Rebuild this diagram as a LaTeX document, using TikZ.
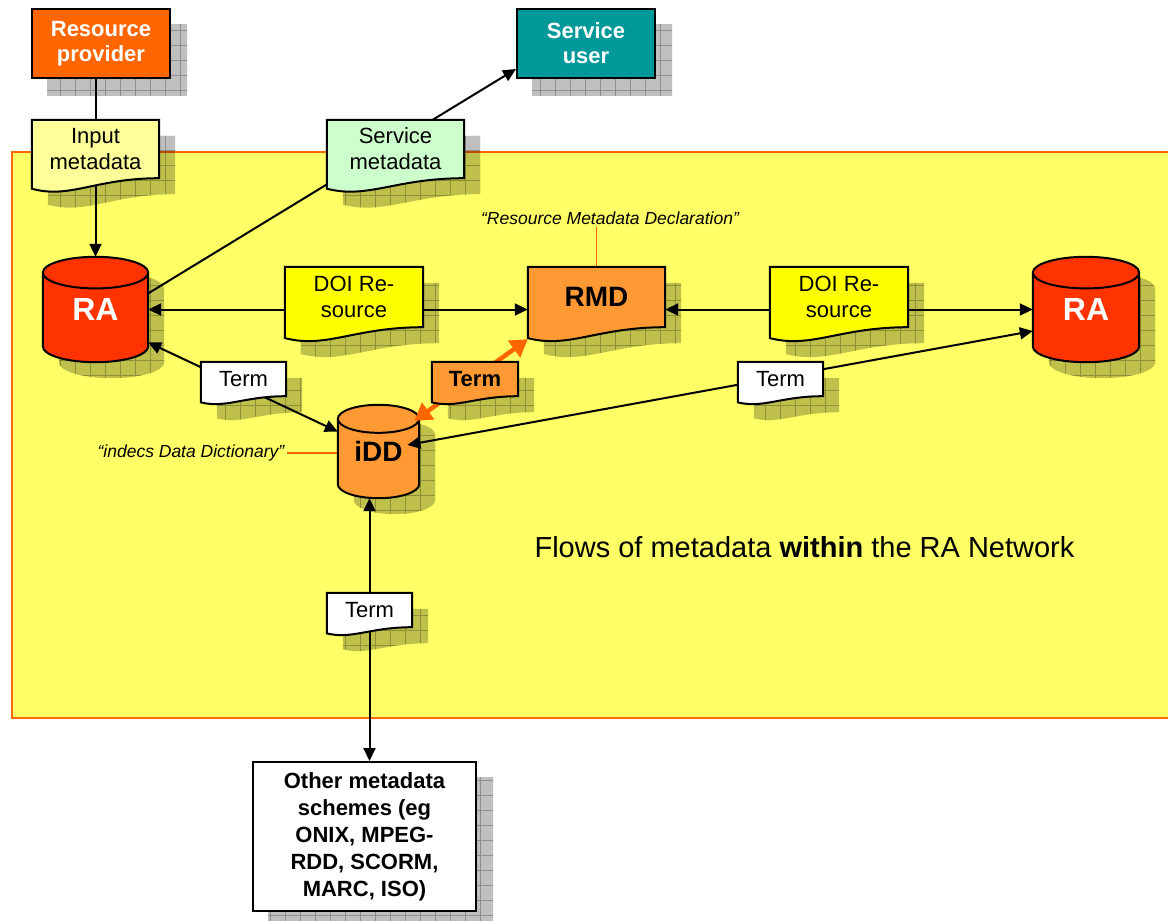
\documentclass[tikz,border=0pt]{standalone}
\usepackage{fontspec}
\setmainfont{Liberation Sans}
\usepackage{xcolor}
\usepackage{tikz}
\usetikzlibrary{calc,arrows.meta}
\definecolor{PanelYellow}{HTML}{FFFF66}
\definecolor{ProviderOrange}{HTML}{FF6600}
\definecolor{UserTeal}{HTML}{009999}
\definecolor{InputYellow}{HTML}{FFFF99}
\definecolor{ServiceGreen}{HTML}{CCFFCC}
\definecolor{RARed}{HTML}{FF3300}
\definecolor{DOIYellow}{HTML}{FFFF00}
\definecolor{DictOrange}{HTML}{FF9933}

\pgfdeclarelayer{panel}
\pgfdeclarelayer{edges}
\pgfdeclarelayer{shapes}
\pgfsetlayers{panel,edges,shapes,main}

% outlines of the drawn shapes (node, offset)
\newcommand{\boxpath}[2]{($(#1.south west)+(#2)$) rectangle ($(#1.north east)+(#2)$)}
\newcommand{\docpath}[2]{%
  let \p1=($(#1.south west)+(#2)$), \p2=($(#1.north east)+(#2)$),
      \n1={\x2-\x1}, \n2={0.18*(\y2-\y1)} in
  (\x1,\y2) -- (\x2,\y2) -- (\x2,\y1)
  .. controls +(-0.5*\n1,0) and +(0.3*\n1,-\n2) .. (\x1,\y1-\n2) -- cycle}
\newcommand{\cylpath}[2]{%
  let \p1=($(#1.south west)+(#2)$), \p2=($(#1.north east)+(#2)$),
      \n1={(\x2-\x1)/2}, \n2={0.15*(\y2-\y1)} in
  (\x1,\y2-\n2) -- (\x1,\y1+\n2)
  arc[start angle=180, end angle=360, x radius=\n1, y radius=\n2]
  -- (\x2,\y2-\n2)
  arc[start angle=0, end angle=180, x radius=\n1, y radius=\n2] -- cycle}
\newcommand{\cyltop}[1]{%
  let \p1=(#1.south west), \p2=(#1.north east),
      \n1={(\x2-\x1)/2}, \n2={0.15*(\y2-\y1)} in
  (\x1,\y2-\n2) arc[start angle=180, end angle=360, x radius=\n1, y radius=\n2]}

% gridded drop shadow
\newcommand{\dropgrid}[2]{%
  \begin{scope}
    \clip #1{#2}{16,-16};
    \fill[shadefill] ($(#2.south west)+(0,-40)$) rectangle ($(#2.north east)+(40,0)$);
    \draw[shadegrid] ($(#2.south west)+(0,-40)$) grid ($(#2.north east)+(40,0)$);
  \end{scope}}
\newcommand{\boxshadow}[1]{%
  \begin{pgfonlayer}{shapes}\dropgrid{\boxpath}{#1}\end{pgfonlayer}}
\newcommand{\docshape}[2]{%
  \begin{pgfonlayer}{shapes}
    \dropgrid{\docpath}{#1}
    \filldraw[outline, fill=#2] \docpath{#1}{0,0};
  \end{pgfonlayer}}
\newcommand{\cylshape}[2]{%
  \begin{pgfonlayer}{shapes}
    \dropgrid{\cylpath}{#1}
    \filldraw[outline, fill=#2] \cylpath{#1}{0,0};
    \draw[outline] \cyltop{#1};
  \end{pgfonlayer}}

\begin{document}
\begin{tikzpicture}[
      x=1pt, y=1pt,
      plate/.style = {rectangle, draw=black, line width=2pt,
        minimum width=138pt, minimum height=69pt, inner sep=0pt,
        align=center, font=\fontsize{22}{25}\selectfont\bfseries},
      doc/.style = {rectangle, minimum width=138pt, minimum height=60pt,
        inner sep=0pt, align=center, font=\fontsize{22}{26}\selectfont},
      term/.style = {doc, minimum width=85pt, minimum height=34pt},
      store/.style = {rectangle, minimum width=105pt, minimum height=105pt,
        inner sep=0pt, text=white, font=\fontsize{32}{36}\selectfont\bfseries},
      note/.style = {inner sep=2pt, font=\fontsize{17.5}{20}\selectfont\itshape},
      caption/.style = {font=\fontsize{29}{34}\selectfont},
      outline/.style = {draw=black, line width=2pt},
      arrow/.style = {line width=2pt, -{Triangle[length=13pt,width=12pt]}},
      twoway/.style = {arrow,
        {Triangle[length=13pt,width=12pt]}-{Triangle[length=13pt,width=12pt]}},
      hot/.style = {draw=ProviderOrange, line width=4.5pt,
        {Triangle[length=17pt,width=20pt]}-{Triangle[length=17pt,width=20pt]}},
      leader/.style = {draw=ProviderOrange, line width=1.2pt},
      panel/.style = {draw=ProviderOrange, line width=1.5pt, fill=PanelYellow},
      shadefill/.style = {fill=black, fill opacity=0.25},
      shadegrid/.style = {step=15, draw=black, draw opacity=0.25, line width=0.6pt}
    ]
    \useasboundingbox (0,0) rectangle (1168,-921);
    \begin{pgfonlayer}{panel}
      \draw [panel] (12,-152) rectangle (1185,-718);
    \end{pgfonlayer}

    \node (RP) at (101,-43.5) [plate, fill=ProviderOrange, text=white] {Resource\\provider};
    \node (SU) at (586,-43.5) [plate, fill=UserTeal, text=white] {Service\\user};
    \node (IM) at (95.5,-149) [doc, minimum width=127pt, minimum height=58pt] {Input\\metadata};
    \node (SM) at (395.5,-149) [doc, minimum width=137pt, minimum height=58pt] {Service\\metadata};
    \node (RA1) at (95.5,-309.5) [store] {RA};
    \node (RA2) at (1086,-309.5) [store, minimum width=106pt] {RA};
    \node (D1) at (354,-297) [doc] {DOI Re-\\source};
    \node (RMD) at (596.5,-297) [doc, minimum width=137pt,
      font=\fontsize{28}{32}\selectfont\bfseries] {RMD};
    \node (D2) at (839,-297) [doc] {DOI Re-\\source};
    \node (T1) at (243.5,-379) [term] {Term};
    \node (T2) at (475,-379) [term, minimum width=86pt,
      font=\fontsize{22}{26}\selectfont\bfseries] {Term};
    \node (T3) at (780.5,-379) [term] {Term};
    \node (T4) at (369.5,-610) [term] {Term};
    \node (IDD) at (378.5,-451.5) [store, minimum width=81pt, minimum height=93pt,
      text=black, font=\fontsize{28}{32}\selectfont\bfseries] {iDD};
    \node (O) at (364.5,-836.5) [plate, fill=white, minimum width=223pt,
      minimum height=149pt, font=\fontsize{22}{27}\selectfont\bfseries]
      {Other metadata\\schemes (eg\\ONIX, MPEG-\\RDD, SCORM,\\MARC, ISO)};
    \node (L1) at (610,-218) [note] {“Resource Metadata Declaration”};
    \node (L2) at (191,-453) [note] {“indecs Data Dictionary”};
    \node (F) at (804.5,-547) [caption] {Flows of metadata \textbf{within} the RA Network};

    \boxshadow{RP}
    \boxshadow{SU}
    \boxshadow{O}
    \cylshape{RA1}{RARed}
    \cylshape{RA2}{RARed}
    \cylshape{IDD}{DictOrange}
    % these two reach over the iDD store, under the term slips
    \begin{pgfonlayer}{shapes}
      \draw [twoway, shorten <=-12pt] (IDD.12) -- (RA2.202);
      \draw [hot, shorten <=-6pt] (IDD.40) -- ($(RMD.south west)+(0,-12)$);
    \end{pgfonlayer}
    \docshape{IM}{InputYellow}
    \docshape{SM}{ServiceGreen}
    \docshape{D1}{DOIYellow}
    \docshape{RMD}{DictOrange}
    \docshape{D2}{DOIYellow}
    \docshape{T1}{white}
    \docshape{T2}{DictOrange}
    \docshape{T3}{white}
    \docshape{T4}{white}

    \begin{pgfonlayer}{edges}
      \draw [arrow] (RP.south -| RA1) -- (RA1);
      \draw [arrow] (RA1.17) -- (SU.200);
      \draw [twoway] (RA1) -- (RMD.west |- RA1);
      \draw [twoway] (RMD.east |- RA2) -- (RA2);
      \draw [twoway] (RA1.-32) -- (IDD.154);
      \draw [twoway] (IDD.south -| T4) -- (O.north -| T4);
      \draw [leader] (L1.south -| RMD) -- (RMD.north);
      \draw [leader] (L2.east) -- (L2.east -| IDD.west);
    \end{pgfonlayer}
  \end{tikzpicture}
\end{document}
